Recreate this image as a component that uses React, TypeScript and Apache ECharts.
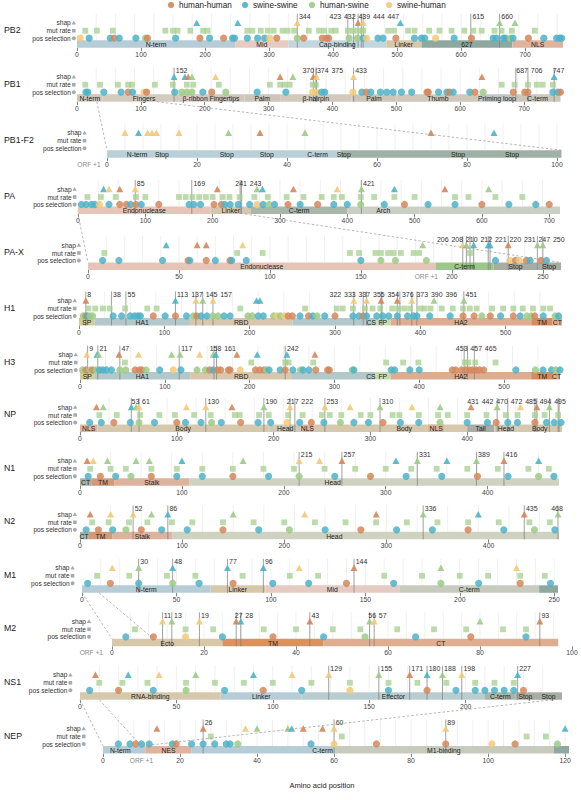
import React, { useEffect, useRef } from "react";
import * as echarts from "echarts";

type Cat = "hh" | "ss" | "hs" | "sh";
type Pt = [number, Cat];
type Dom = [string, number, number];
type Note = [string, number];

const FONT = "Liberation Sans, Arial, Helvetica, sans-serif";
const CAT_COLOR: Record<Cat, string> = { hh: "#d4865b", ss: "#4db2c8", hs: "#9ccb86", sh: "#f2c978" };
const legendCats: Cat[] = ["hh", "ss", "hs", "sh"];
const legendNames = ["human-human", "swine-swine", "human-swine", "swine-human"];
const rowNames = ["shap", "mut rate", "pos selection"];

// ---------- PB2 ----------
const pb2Ticks = [0, 100, 200, 300, 400, 500, 600, 700];
const pb2Sites = [344, 423, 432, 439, 444, 447, 615, 660];
const pb2Shap: Pt[] = [[187, "ss"], [251, "ss"], [344, "sh"], [439, "hh"], [447, "sh"], [505, "ss"], [660, "hs"], [684, "hs"]];
const pb2Mut = [13, 31, 56, 138, 150, 157, 177, 197, 204, 266, 274, 287, 298, 307, 321, 329, 339, 362, 378, 386, 397, 404, 423, 431, 439, 447, 486, 495, 517, 527, 550, 566, 585, 605, 619, 632, 652, 663, 679, 715];
const pb2Pos: Pt[] = [[5, "sh"], [19, "ss"], [52, "ss"], [58, "hh"], [66, "ss"], [92, "ss"], [107, "hs"], [110, "hh"], [154, "ss"], [192, "hh"], [207, "ss"], [229, "hh"], [243, "ss"], [246, "ss"], [266, "ss"], [282, "ss"], [293, "ss"], [301, "sh"], [312, "hh"], [344, "hs"], [354, "hh"], [383, "hh"], [390, "hh"], [393, "hh"], [425, "hs"], [438, "hs"], [447, "ss"], [452, "sh"], [470, "ss"], [478, "ss"], [498, "hh"], [527, "ss"], [538, "ss"], [543, "ss"], [560, "sh"], [589, "ss"], [616, "hh"], [650, "ss"], [655, "ss"], [666, "ss"], [669, "ss"], [677, "hs"], [681, "ss"], [705, "hh"], [729, "ss"], [749, "ss"], [754, "ss"], [757, "ss"]];
const pb2Domains: Dom[] = [["N-term", 0, 247], ["Mid", 247, 330], ["Cap-binding", 330, 483], ["Linker", 483, 538], ["627", 538, 680], ["NLS", 680, 759]];
const pb2Fills = ["#b6cdd7", "#e6cbc3", "#c3d6de", "#d8c8aa", "#8ea89f", "#deb49e"];

// ---------- PB1 ----------
const pb1Ticks = [0, 100, 200, 300, 400, 500, 600, 700];
const pb1Sites = [152, 370, 374, 375, 433, 687, 706, 747];
const pb1Shap: Pt[] = [[152, "ss"], [169, "ss"], [174, "hh"], [180, "hs"], [217, "sh"], [318, "hh"], [338, "hs"], [370, "hh"], [375, "sh"], [433, "sh"], [634, "hh"], [747, "ss"]];
const pb1Mut = [13, 36, 64, 80, 86, 122, 150, 172, 182, 222, 302, 318, 325, 333, 369, 374, 665, 685, 706, 720, 729, 745];
const pb1Pos: Pt[] = [[14, "ss"], [17, "ss"], [42, "ss"], [69, "ss"], [80, "hh"], [87, "ss"], [105, "sh"], [109, "hh"], [153, "ss"], [164, "hs"], [172, "hs"], [180, "hs"], [197, "ss"], [211, "hh"], [233, "hs"], [282, "ss"], [327, "ss"], [369, "sh"], [375, "sh"], [383, "ss"], [388, "ss"], [432, "sh"], [446, "ss"], [453, "hh"], [460, "ss"], [475, "ss"], [485, "ss"], [495, "ss"], [508, "ss"], [524, "ss"], [548, "hh"], [550, "hh"], [566, "ss"], [579, "ss"], [583, "hh"], [589, "ss"], [615, "ss"], [623, "hh"], [636, "hs"], [683, "hh"], [701, "hh"], [706, "hh"], [745, "ss"], [753, "ss"], [757, "hh"]];
const pb1Domains: Dom[] = [["N-term", 0, 40], ["Fingers", 40, 170], ["β-ribbon", 170, 200], ["Fingertips", 200, 262], ["Palm", 262, 318], ["β-hairpin", 318, 430], ["Palm", 430, 500], ["Thumb", 500, 630], ["Priming loop", 630, 685], ["C-term", 685, 757]];
const pb1Fills = ["#cfc8ba", "#d3cbbd", "#d9c6c0", "#cfc8ba", "#cdc6b8", "#d1c9bb", "#cdc6b8", "#cfc8ba", "#c2c6c6", "#cbc6b8"];

// ---------- PB1-F2 ----------
const pb1f2Ticks = [0, 20, 40, 60, 80, 100];
const pb1f2Sites: number[] = [];
const pb1f2Shap: Pt[] = [[4, "sh"], [7, "ss"], [9, "sh"], [10, "sh"], [11, "sh"], [16, "sh"], [27, "hs"], [34, "hh"], [44, "hs"], [72, "hh"], [86, "ss"]];
const pb1f2Mut: number[] = [];
const pb1f2Pos: Pt[] = [];
const pb1f2Domains: Dom[] = [["", 0, 52], ["", 52, 101]];
const pb1f2Fills = ["#b9d0d8", "#9fb0a5"];
const pb1f2Notes: Note[] = [["N-term", 6.7], ["Stop", 12.2], ["Stop", 26.6], ["Stop", 35.5], ["C-term", 46.8], ["Stop", 52.6], ["Stop", 78], ["Stop", 90]];
const pb1f2Link = [31, 125];

// ---------- PA ----------
const paTicks = [0, 100, 200, 300, 400, 500, 600, 700];
const paSites = [85, 169, 241, 243, 421];
const paShap: Pt[] = [[38, "ss"], [46, "sh"], [62, "hh"], [85, "sh"], [207, "hh"], [266, "hs"], [274, "ss"], [320, "hh"], [385, "sh"], [421, "hs"], [470, "ss"], [545, "hh"], [610, "hs"]];
const paMut = [14, 34, 56, 86, 100, 150, 160, 170, 180, 190, 200, 215, 225, 240, 262, 282, 310, 335, 362, 380, 392, 420, 440, 470, 500, 560, 580, 620, 660];
const paPos: Pt[] = [[5, "ss"], [12, "ss"], [20, "ss"], [25, "ss"], [32, "sh"], [46, "ss"], [62, "hh"], [72, "hh"], [78, "ss"], [86, "hh"], [94, "ss"], [120, "hh"], [165, "ss"], [172, "ss"], [182, "ss"], [202, "hh"], [213, "hh"], [218, "ss"], [226, "ss"], [238, "ss"], [255, "ss"], [266, "sh"], [275, "ss"], [284, "hs"], [292, "ss"], [312, "hh"], [330, "ss"], [356, "hh"], [380, "ss"], [400, "ss"], [420, "hs"], [455, "ss"], [485, "hh"], [520, "ss"], [560, "ss"], [600, "hh"], [640, "ss"], [680, "ss"], [700, "hh"]];
const paDomains: Dom[] = [["Endonuclease", 0, 197], ["Linker", 197, 257], ["C-term", 257, 400], ["Arch", 400, 507], ["", 507, 716]];
const paFills = ["#e6c4b7", "#d4c7ae", "#a8b7a9", "#c9cfc3", "#c9cfc3"];

// ---------- PA-X ----------
const paxTicks = [0, 50, 100, 150, 200, 250];
const paxSites = [206, 208, 210, 212, 221, 220, 231, 247, 250];
const paxShap: Pt[] = [[43, "ss"], [60, "hh"], [65, "hh"], [85, "sh"], [184, "hs"], [206, "sh"], [208, "hs"], [212, "ss"], [220, "ss"], [221, "ss"], [231, "hh"], [247, "hs"], [250, "hs"]];
const paxMut = [9, 82, 96, 144, 149, 158, 161, 165, 168, 172, 179, 182, 210];
const paxPos: Pt[] = [[8, "ss"], [17, "ss"], [41, "ss"], [55, "hh"], [56, "ss"], [65, "hh"], [70, "ss"], [78, "hh"], [79, "ss"], [87, "ss"], [150, "ss"], [161, "hs"], [169, "hs"], [186, "hs"], [224, "ss"], [232, "sh"], [235, "hh"], [237, "sh"], [241, "hh"], [243, "ss"], [249, "hh"], [252, "ss"]];
const paxDomains: Dom[] = [["Endonuclease", 0, 191], ["C-term", 191, 223], ["Stop", 223, 247], ["Stop", 247, 260]];
const paxFills = ["#e6c4b7", "#9dc78a", "#a9aca3", "#a9aca3"];
const paxLink = [0, 248];

// ---------- H1 ----------
const h1Ticks = [0, 100, 200, 300, 400, 500];
const h1Sites = [8, 38, 55, 113, 137, 145, 157, 322, 333, 337, 355, 354, 376, 373, 390, 396, 451];
const h1Shap: Pt[] = [[8, "hh"], [113, "ss"], [137, "sh"], [145, "hs"], [157, "sh"], [208, "ss"], [212, "ss"], [322, "sh"], [337, "sh"], [354, "hh"], [373, "hh"], [390, "sh"], [416, "hs"], [451, "hs"]];
const h1Mut = [11, 19, 28, 36, 54, 80, 91, 189, 265, 302, 309, 321, 335, 344, 353, 367, 374, 381, 388, 400, 405, 412, 425, 438, 450, 458, 466, 484, 497, 509, 520, 532, 544, 552];
const h1Pos: Pt[] = [[5, "hs"], [8, "hh"], [10, "ss"], [13, "hs"], [16, "hs"], [40, "ss"], [50, "ss"], [60, "ss"], [65, "ss"], [69, "ss"], [72, "ss"], [87, "hh"], [101, "ss"], [113, "hh"], [126, "ss"], [134, "hs"], [138, "hh"], [143, "ss"], [150, "ss"], [157, "hs"], [163, "hs"], [170, "ss"], [177, "ss"], [198, "hs"], [203, "hs"], [210, "ss"], [216, "ss"], [228, "hs"], [232, "sh"], [236, "hs"], [241, "sh"], [245, "hh"], [250, "hh"], [259, "ss"], [269, "hh"], [274, "ss"], [279, "hs"], [288, "ss"], [300, "hh"], [321, "ss"], [328, "ss"], [333, "hh"], [337, "ss"], [349, "ss"], [356, "ss"], [363, "ss"], [373, "ss"], [385, "ss"], [392, "ss"], [396, "ss"], [411, "ss"], [435, "ss"], [450, "hh"], [463, "hh"], [472, "hs"], [482, "hh"], [494, "ss"], [509, "hh"], [517, "ss"], [525, "hs"], [530, "hs"], [534, "hh"], [544, "ss"], [558, "hs"], [562, "ss"]];
const h1Domains: Dom[] = [["SP", 0, 18], ["HA1", 18, 130], ["RBD", 130, 250], ["", 250, 340], ["CS", 338, 347], ["FP", 347, 365], ["HA2", 365, 530], ["TM", 530, 555], ["CT", 555, 566]];
const h1Fills = ["#cfcd93", "#b3c8cb", "#d8c6ad", "#b3c8cb", "#b3c8cb", "#c6dcae", "#dcad90", "#d98b5e", "#dfae90"];

// ---------- H3 ----------
const h3Ticks = [0, 100, 200, 300, 400, 500];
const h3Sites = [9, 21, 47, 117, 158, 161, 242, 453, 457, 465];
const h3Shap: Pt[] = [[8, "sh"], [20, "ss"], [22, "hs"], [46, "hh"], [69, "sh"], [108, "hs"], [118, "hs"], [141, "sh"], [157, "hs"], [160, "ss"], [185, "hh"], [209, "ss"], [244, "ss"], [277, "hh"]];
const h3Mut = [53, 202, 242, 246, 275, 361, 381, 399, 454, 458, 466, 490];
const h3Pos: Pt[] = [[3, "hs"], [7, "hh"], [12, "hs"], [15, "hh"], [19, "hs"], [23, "ss"], [27, "ss"], [31, "ss"], [37, "ss"], [47, "hs"], [54, "hs"], [65, "hh"], [70, "hh"], [73, "hh"], [78, "hs"], [94, "ss"], [110, "sh"], [119, "ss"], [138, "hs"], [148, "hs"], [153, "hh"], [157, "ss"], [162, "hh"], [166, "hh"], [175, "hh"], [177, "hh"], [189, "sh"], [207, "hh"], [212, "hh"], [217, "hh"], [220, "hs"], [223, "ss"], [236, "ss"], [242, "hh"], [251, "ss"], [260, "hs"], [263, "ss"], [270, "ss"], [278, "hh"], [292, "hh"], [294, "hh"], [321, "hs"], [323, "ss"], [367, "ss"], [371, "ss"], [389, "ss"], [400, "ss"], [439, "hh"], [443, "hh"], [450, "hh"], [455, "hh"], [459, "hh"], [463, "hh"], [467, "hh"], [471, "hh"], [476, "hh"], [514, "ss"], [537, "hs"], [546, "ss"], [556, "ss"], [561, "hs"], [566, "ss"]];
const h3Domains: Dom[] = [["SP", 0, 17], ["HA1", 17, 130], ["RBD", 130, 250], ["", 250, 340], ["CS", 338, 348], ["FP", 348, 366], ["HA2", 366, 532], ["TM", 532, 558], ["CT", 558, 566]];
const h3Fills = ["#cfcd93", "#b3c8cb", "#d8c6ad", "#b3c8cb", "#b3c8cb", "#c6dcae", "#dcad90", "#d98b5e", "#dfae90"];

// ---------- NP ----------
const npTicks = [0, 100, 200, 300, 400, 500];
const npSites = [53, 61, 130, 190, 217, 222, 253, 310, 431, 442, 470, 472, 485, 494, 495];
const npShap: Pt[] = [[17, "hh"], [24, "hs"], [53, "ss"], [58, "hs"], [61, "sh"], [110, "sh"], [130, "sh"], [157, "hh"], [190, "hs"], [217, "sh"], [253, "sh"], [279, "sh"], [310, "hs"], [343, "sh"], [372, "hs"], [404, "hh"], [431, "hs"], [455, "sh"], [472, "hh"], [485, "hs"]];
const npMut = [20, 38, 62, 82, 98, 118, 135, 160, 165, 185, 195, 215, 230, 250, 258, 270, 290, 300, 323, 330, 350, 370, 380, 400, 420, 440, 452, 470, 480, 494];
const npPos: Pt[] = [[10, "ss"], [22, "ss"], [35, "hh"], [52, "ss"], [61, "hs"], [77, "ss"], [100, "hh"], [109, "ss"], [125, "ss"], [136, "hs"], [146, "ss"], [166, "hh"], [184, "ss"], [197, "ss"], [214, "sh"], [227, "ss"], [239, "hh"], [252, "ss"], [269, "hs"], [283, "ss"], [298, "ss"], [313, "hh"], [331, "ss"], [350, "ss"], [372, "hs"], [400, "ss"], [421, "ss"], [430, "hh"], [442, "ss"], [452, "ss"], [470, "hh"], [482, "ss"], [490, "ss"], [497, "ss"]];
const npDomains: Dom[] = [["NLS", 0, 18], ["Body", 18, 195], ["Head", 195, 229], ["NLS", 229, 241], ["", 241, 400], ["NLS", 360, 376], ["Tail", 400, 428], ["Head", 428, 452], ["Body", 452, 498]];
const npFills = ["#ddb49e", "#d6c8ad", "#d0c9b6", "#ddb49e", "#d6c8ad", "#ddb49e", "#a9aca3", "#d0c9b6", "#d6c8ad"];
const npNotes: Note[] = [["Body", 335]];

// ---------- N1 ----------
const n1Ticks = [0, 100, 200, 300, 400];
const n1Sites = [215, 257, 331, 389, 416];
const n1Shap: Pt[] = [[7, "hh"], [13, "sh"], [27, "hs"], [55, "hs"], [68, "hs"], [100, "ss"], [160, "hs"], [215, "sh"], [235, "sh"], [257, "hh"], [310, "ss"], [331, "hs"], [360, "ss"], [389, "hs"], [416, "hh"], [450, "ss"]];
const n1Mut = [10, 30, 45, 70, 95, 120, 150, 180, 210, 240, 270, 300, 325, 350, 380, 410, 440, 460];
const n1Pos: Pt[] = [[8, "ss"], [20, "hh"], [35, "ss"], [50, "hs"], [70, "hh"], [95, "ss"], [120, "ss"], [150, "hh"], [185, "ss"], [215, "hs"], [250, "ss"], [285, "hh"], [320, "ss"], [355, "ss"], [390, "hh"], [420, "ss"], [450, "hs"], [465, "ss"]];
const n1Domains: Dom[] = [["CT", 0, 11], ["TM", 11, 34], ["Stalk", 34, 107], ["", 107, 470]];
const n1Fills = ["#a5b3a6", "#d29a78", "#ddb39d", "#cfd2c0"];
const n1Notes: Note[] = [["Head", 248]];

// ---------- N2 ----------
const n2Ticks = [0, 100, 200, 300, 400];
const n2Sites = [52, 86, 336, 435, 468];
const n2Shap: Pt[] = [[10, "hh"], [30, "sh"], [52, "sh"], [70, "hs"], [86, "ss"], [150, "hs"], [220, "sh"], [290, "hh"], [336, "hs"], [390, "ss"], [435, "hh"], [468, "hs"]];
const n2Mut = [12, 28, 48, 66, 90, 110, 140, 170, 200, 230, 260, 290, 320, 350, 380, 410, 440, 460];
const n2Pos: Pt[] = [[6, "ss"], [18, "hh"], [32, "ss"], [45, "hs"], [60, "hh"], [80, "ss"], [105, "ss"], [140, "hh"], [175, "ss"], [205, "hs"], [240, "ss"], [275, "hh"], [310, "ss"], [345, "ss"], [380, "hh"], [415, "ss"], [445, "hs"], [465, "ss"]];
const n2Domains: Dom[] = [["CT", 0, 8], ["TM", 8, 32], ["Stalk", 32, 90], ["", 90, 469]];
const n2Fills = ["#a5b3a6", "#d29a78", "#ddb39d", "#cfd2c0"];
const n2Notes: Note[] = [["Head", 249]];

// ---------- M1 ----------
const m1Ticks = [0, 50, 100, 150, 200, 250];
const m1Sites = [30, 48, 77, 96, 144];
const m1Shap: Pt[] = [[16, "sh"], [30, "hs"], [48, "ss"], [77, "ss"], [96, "ss"], [115, "sh"], [144, "hh"], [190, "hs"], [230, "sh"]];
const m1Mut = [8, 25, 45, 60, 85, 110, 125, 160, 180, 200, 215, 232, 245];
const m1Pos: Pt[] = [[3, "ss"], [15, "hh"], [30, "ss"], [48, "hs"], [62, "ss"], [80, "hh"], [101, "ss"], [120, "ss"], [140, "hh"], [165, "ss"], [190, "hs"], [210, "ss"], [232, "hh"], [248, "ss"]];
const m1Domains: Dom[] = [["N-term", 0, 68], ["Linker", 68, 97], ["Mid", 97, 168], ["C-term", 168, 242], ["", 242, 252]];
const m1Fills = ["#b6cdd7", "#d8c8aa", "#e6cbc3", "#c6cbbd", "#8ea89f"];

// ---------- M2 ----------
const m2Ticks = [0, 20, 40, 60, 80, 100];
const m2Sites = [11, 13, 19, 27, 28, 43, 56, 57, 93];
const m2Shap: Pt[] = [[11, "sh"], [13, "hs"], [19, "sh"], [27, "hh"], [28, "ss"], [43, "hh"], [56, "hs"], [57, "sh"], [80, "hs"], [93, "hh"]];
const m2Mut = [5, 16, 22, 33, 40, 48, 54, 62, 70, 77, 85, 90];
const m2Pos: Pt[] = [[3, "ss"], [9, "hh"], [16, "sh"], [24, "ss"], [35, "hh"], [46, "ss"], [55, "hs"], [66, "ss"], [78, "hh"], [90, "ss"]];
const m2Domains: Dom[] = [["Ecto", 0, 24], ["TM", 24, 46], ["CT", 46, 97]];
const m2Fills = ["#d8c8aa", "#d9935f", "#dfad8f"];
const m2Link = [0, 9];

// ---------- NS1 ----------
const ns1Ticks = [0, 50, 100, 150, 200];
const ns1Sites = [129, 155, 171, 180, 188, 198, 227];
const ns1Shap: Pt[] = [[8, "hh"], [25, "ss"], [41, "sh"], [60, "hs"], [90, "ss"], [110, "sh"], [129, "sh"], [155, "hs"], [171, "hh"], [180, "ss"], [188, "hs"], [198, "sh"], [227, "ss"]];
const ns1Mut = [10, 22, 35, 55, 70, 85, 100, 120, 140, 160, 175, 190, 205, 215, 225];
const ns1Pos: Pt[] = [[5, "ss"], [20, "hh"], [38, "ss"], [55, "hs"], [75, "ss"], [95, "hh"], [115, "ss"], [140, "sh"], [160, "ss"], [180, "hh"], [195, "ss"], [205, "ss"], [210, "ss"], [215, "ss"], [220, "ss"], [225, "ss"], [230, "hh"]];
const ns1Domains: Dom[] = [["RNA-binding", 0, 73], ["Linker", 73, 115], ["Effector", 115, 210], ["C-term", 210, 226], ["Stop", 226, 236], ["Stop", 236, 250]];
const ns1Fills = ["#d6c8ad", "#b6cdd7", "#b9cccf", "#a9b4a8", "#a9aca3", "#a9aca3"];

// ---------- NEP ----------
const nepTicks = [0, 20, 40, 60, 80, 100, 120];
const nepSites = [26, 60, 89];
const nepShap: Pt[] = [[14, "hh"], [26, "hh"], [37, "sh"], [40, "hs"], [48, "hs"], [49, "ss"], [52, "hh"], [57, "hh"], [60, "sh"], [89, "sh"], [120, "ss"]];
const nepMut = [28, 62, 110, 115];
const nepPos: Pt[] = [[4, "ss"], [7, "ss"], [8.5, "hh"], [10, "ss"], [12, "ss"], [18, "ss"], [19, "hh"], [23, "ss"], [26, "ss"], [29, "ss"], [32, "ss"], [33, "ss"], [35, "hs"], [54, "ss"], [60, "sh"], [71, "hh"], [89, "hh"], [101, "sh"], [107, "hh"], [118, "hs"]];
const nepDomains: Dom[] = [["", 0, 11], ["NES", 11, 23], ["", 23, 60], ["M1-binding", 60, 117], ["", 117, 121]];
const nepFills = ["#b6cdd7", "#dfb39d", "#b6cdd7", "#c6cbbd", "#8ea89f"];
const nepNotes: Note[] = [["N-term", 4.5], ["C-term", 57]];
const nepLink = [0, 10];
const nepReturn = [245, 10];

interface Panel {
  name: string; s: number; x0: number; x1: number; max: number; ticks: number[];
  shap: Pt[]; mut: number[]; pos: Pt[]; sites: number[]; domains: Dom[]; fills: string[];
  orf?: number; notes?: Note[];
}

const panels: Panel[] = [
  { name: "PB2", s: 22.7, x0: 77, x1: 563, max: 759, ticks: pb2Ticks, shap: pb2Shap, mut: pb2Mut, pos: pb2Pos, sites: pb2Sites, domains: pb2Domains, fills: pb2Fills },
  { name: "PB1", s: 76.7, x0: 77, x1: 560.5, max: 757, ticks: pb1Ticks, shap: pb1Shap, mut: pb1Mut, pos: pb1Pos, sites: pb1Sites, domains: pb1Domains, fills: pb1Fills },
  { name: "PB1-F2", s: 132.7, x0: 107, x1: 561.5, max: 101, ticks: pb1f2Ticks, shap: pb1f2Shap, mut: pb1f2Mut, pos: pb1f2Pos, sites: pb1f2Sites, domains: pb1f2Domains, fills: pb1f2Fills, orf: -4, notes: pb1f2Notes },
  { name: "PA", s: 189, x0: 78, x1: 560, max: 716, ticks: paTicks, shap: paShap, mut: paMut, pos: paPos, sites: paSites, domains: paDomains, fills: paFills },
  { name: "PA-X", s: 245, x0: 88, x1: 561, max: 260, ticks: paxTicks, shap: paxShap, mut: paxMut, pos: paxPos, sites: paxSites, domains: paxDomains, fills: paxFills, orf: 186 },
  { name: "H1", s: 300.5, x0: 79, x1: 562, max: 566, ticks: h1Ticks, shap: h1Shap, mut: h1Mut, pos: h1Pos, sites: h1Sites, domains: h1Domains, fills: h1Fills },
  { name: "H3", s: 354.5, x0: 80, x1: 560, max: 566, ticks: h3Ticks, shap: h3Shap, mut: h3Mut, pos: h3Pos, sites: h3Sites, domains: h3Domains, fills: h3Fills },
  { name: "NP", s: 407, x0: 80, x1: 562, max: 498, ticks: npTicks, shap: npShap, mut: npMut, pos: npPos, sites: npSites, domains: npDomains, fills: npFills, notes: npNotes },
  { name: "N1", s: 460.8, x0: 80, x1: 559, max: 470, ticks: n1Ticks, shap: n1Shap, mut: n1Mut, pos: n1Pos, sites: n1Sites, domains: n1Domains, fills: n1Fills, notes: n1Notes },
  { name: "N2", s: 514.3, x0: 80, x1: 559, max: 469, ticks: n2Ticks, shap: n2Shap, mut: n2Mut, pos: n2Pos, sites: n2Sites, domains: n2Domains, fills: n2Fills, notes: n2Notes },
  { name: "M1", s: 567.8, x0: 82, x1: 558, max: 252, ticks: m1Ticks, shap: m1Shap, mut: m1Mut, pos: m1Pos, sites: m1Sites, domains: m1Domains, fills: m1Fills },
  { name: "M2", s: 621.3, x0: 112, x1: 572, max: 100, ticks: m2Ticks, shap: m2Shap, mut: m2Mut, pos: m2Pos, sites: m2Sites, domains: m2Domains, fills: m2Fills, orf: -4.5 },
  { name: "NS1", s: 674.8, x0: 80, x1: 562, max: 250, ticks: ns1Ticks, shap: ns1Shap, mut: ns1Mut, pos: ns1Pos, sites: ns1Sites, domains: ns1Domains, fills: ns1Fills },
  { name: "NEP", s: 728.5, x0: 103, x1: 569, max: 121, ticks: nepTicks, shap: nepShap, mut: nepMut, pos: nepPos, sites: nepSites, domains: nepDomains, fills: nepFills, orf: 10, notes: nepNotes },
];

// parent panel, child panel, parent range that maps onto the child axis, child end of the second line
const links: [number, number, number[], number][] = [[1, 2, pb1f2Link, 101], [3, 4, paxLink, 260], [10, 11, m2Link, 9], [12, 13, nepLink, 10]];
// long return line from the end of NS1 down to the NEP splice point
const returns: [number, number, number[]][] = [[12, 13, nepReturn]];

const ROW_SHAP = 0, ROW_MUT = 8, ROW_POS = 15.5, BAR_TOP = 17.5, BAR_BOT = 25;

function scaleOf(p: Panel) { const k = (p.x1 - p.x0) / p.max; return (a: number) => p.x0 + a * k; }

// spread site labels sideways, keeping them in the listed order, so they do not collide
function placeLabels(xs: number[], ws: number[], lo: number, hi: number) {
  const n = xs.length;
  const c = xs.map((x, i) => x + ws[i] / 2 + 1.5);
  for (let it = 0; it < 400; it++) {
    let moved = false;
    for (let a = 0; a < n - 1; a++) {
      const b = a + 1;
      const need = (ws[a] + ws[b]) / 2 + 2.5;
      const d = c[b] - c[a];
      if (d < need - 0.01) { const m = (need - d) / 2; c[a] -= m; c[b] += m; moved = true; }
    }
    for (let i = 0; i < n; i++) c[i] = Math.max(lo + ws[i] / 2, Math.min(hi - ws[i] / 2, c[i]));
    if (!moved) break;
  }
  return c;
}

function barText(i: number, p: Panel, notes: Note[]) {
  return {
    type: "custom", xAxisIndex: i, yAxisIndex: i, z: 6, silent: true, clip: false,
    data: notes.map((n, j) => [n[1], j]),
    renderItem: (_: any, api: any) => {
      const c = api.coord([api.value(0), p.s + (BAR_TOP + BAR_BOT) / 2]);
      return { type: "text", style: { text: notes[api.value(1)][0], x: c[0], y: c[1] + 0.5, align: "center", verticalAlign: "middle", fontSize: 6.8, fontFamily: FONT, fill: "#222" } };
    },
  };
}

function buildOption() {
  const grid: any[] = [], xAxis: any[] = [], yAxis: any[] = [], series: any[] = [], graphic: any[] = [];

  panels.forEach((p, i) => {
    const top = p.s - 12, bot = p.s + BAR_BOT;
    const px = scaleOf(p);
    const k = (p.x1 - p.x0) / p.max;
    grid.push({ left: p.x0, top, width: p.x1 - p.x0, height: bot - top });
    xAxis.push({
      type: "value", gridIndex: i, min: 0, max: p.max,
      axisLine: { show: false }, splitLine: { show: false },
      axisTick: { show: true, length: 3.5, customValues: p.ticks, lineStyle: { color: "#666", width: 0.8 } },
      axisLabel: { customValues: p.ticks, fontSize: 6.8, color: "#444", margin: 3, fontFamily: FONT },
    });
    yAxis.push({ type: "value", gridIndex: i, min: top, max: bot, inverse: true, show: false });

    // faint guide lines behind the rows
    const minorStep = p.max > 400 ? 30 : p.max > 200 ? 10 : 4;
    const guides: number[] = [];
    for (let a = minorStep; a < p.max; a += minorStep) guides.push(a);
    series.push({
      type: "custom", xAxisIndex: i, yAxisIndex: i, z: 1, silent: true, clip: false,
      data: guides.map((a) => [a]),
      renderItem: (_: any, api: any) => {
        const a = api.coord([api.value(0), p.s - 9]);
        const b = api.coord([api.value(0), p.s + BAR_TOP]);
        return { type: "line", shape: { x1: a[0], y1: a[1], x2: b[0], y2: b[1] }, style: { stroke: "#e6e6e6", lineWidth: 0.6 } };
      },
    });

    // domain bars
    series.push({
      type: "custom", xAxisIndex: i, yAxisIndex: i, z: 2, silent: true, clip: false,
      data: p.domains.map((d, j) => [d[1], d[2], j]),
      renderItem: (_: any, api: any) => {
        const a = api.coord([api.value(0), p.s + BAR_TOP]);
        const b = api.coord([api.value(1), p.s + BAR_BOT]);
        return { type: "rect", shape: { x: a[0], y: a[1], width: b[0] - a[0], height: b[1] - a[1] }, style: { fill: p.fills[api.value(2)] } };
      },
    });

    // site lines
    series.push({
      type: "custom", xAxisIndex: i, yAxisIndex: i, z: 3, silent: true, clip: false,
      data: p.sites.map((a) => [a]),
      renderItem: (_: any, api: any) => {
        const a = api.coord([api.value(0), p.s - 9]);
        const b = api.coord([api.value(0), p.s + BAR_BOT]);
        return { type: "line", shape: { x1: a[0], y1: a[1], x2: b[0], y2: b[1] }, style: { stroke: "#808080", lineWidth: 0.75 } };
      },
    });

    const scat = (pts: [number, string][], y: number, symbol: string, size: any, opacity: number, z: number) => ({
      type: "scatter", xAxisIndex: i, yAxisIndex: i, z, silent: true, clip: false, symbol, symbolSize: size,
      data: pts.map(([a, c]) => ({ value: [a, p.s + y], itemStyle: { color: c, opacity } })),
    });
    series.push(scat(p.mut.map((a) => [a, "#a6cf8e"]), ROW_MUT, "rect", 5.8, 0.75, 4));
    series.push(scat(p.shap.map(([a, c]) => [a, CAT_COLOR[c]]), ROW_SHAP, "triangle", [7, 6.5], 0.9, 5));
    series.push(scat(p.pos.map(([a, c]) => [a, CAT_COLOR[c]]), ROW_POS, "circle", 7.2, 0.85, 5));

    // domain names
    const named: Note[] = p.domains.filter((d) => d[0]).map((d) => [d[0], (d[1] + d[2]) / 2]);
    series.push(barText(i, p, named.concat(p.notes || [])));

    // site labels
    if (p.sites.length) {
      const xs = p.sites.map(px);
      const ws = p.sites.map((a) => String(a).length * 4);
      const cs = placeLabels(xs, ws, p.x0 - 4, p.x1 + 4);
      series.push({
        type: "custom", xAxisIndex: i, yAxisIndex: i, z: 6, silent: true, clip: false,
        data: p.sites.map((a, j) => [(cs[j] - p.x0) / k, a]),
        renderItem: (_: any, api: any) => {
          const c = api.coord([api.value(0), p.s - 6]);
          return { type: "text", style: { text: String(api.value(1)), x: c[0], y: c[1], align: "center", verticalAlign: "middle", fontSize: 7, fontFamily: FONT, fill: "#333" } };
        },
      });
    }

    // row captions and key symbols
    const mx = px(-5);
    graphic.push({ type: "text", left: 4, top: p.s + ROW_MUT - 5.5, style: { text: p.name, fontSize: 8.8, fontFamily: FONT, fill: "#222" } });
    [ROW_SHAP, ROW_MUT, ROW_POS].forEach((dy, r) => {
      graphic.push({ type: "text", x: mx - 3, y: p.s + dy, style: { text: rowNames[r], align: "right", verticalAlign: "middle", fontSize: 6.6, fontFamily: FONT, fill: "#333" } });
    });
    graphic.push({ type: "polygon", shape: { points: [[mx, p.s - 2], [mx - 2.2, p.s + 1.8], [mx + 2.2, p.s + 1.8]] }, style: { fill: "#aaa" } });
    graphic.push({ type: "rect", shape: { x: mx - 1.8, y: p.s + ROW_MUT - 1.8, width: 3.6, height: 3.6 }, style: { fill: "#aaa" } });
    graphic.push({ type: "circle", shape: { cx: mx, cy: p.s + ROW_POS, r: 2 }, style: { fill: "#aaa" } });
    if (p.orf !== undefined) {
      graphic.push({ type: "text", x: px(p.orf), y: p.s + 31.5, style: { text: "ORF +1", align: "center", verticalAlign: "middle", fontSize: 6.6, fontFamily: FONT, fill: "#888" } });
    }
  });

  // dashed connectors between a protein and its overlapping reading frame
  const dash = { stroke: "#9a9a9a", lineWidth: 0.7, lineDash: [2.5, 2] };
  links.forEach(([pi, ci, range, childEnd]) => {
    const P = panels[pi], C = panels[ci];
    const pp = scaleOf(P), cp = scaleOf(C);
    const y1 = P.s + BAR_BOT, y2 = C.s + BAR_TOP;
    graphic.push({ type: "line", z: 10, shape: { x1: pp(range[0]), y1, x2: cp(0), y2 }, style: dash });
    graphic.push({ type: "line", z: 10, shape: { x1: pp(range[1]), y1, x2: cp(childEnd), y2 }, style: dash });
  });
  returns.forEach(([pi, ci, r]) => {
    const P = panels[pi], C = panels[ci];
    graphic.push({ type: "line", z: 10, shape: { x1: scaleOf(P)(r[0]), y1: P.s + BAR_BOT, x2: scaleOf(C)(r[1]), y2: C.s + BAR_TOP }, style: dash });
  });

  // legend
  let lx = 171;
  legendCats.forEach((c, j) => {
    graphic.push({ type: "circle", shape: { cx: lx, cy: 5, r: 3.2 }, style: { fill: CAT_COLOR[c], opacity: 0.9 } });
    graphic.push({ type: "text", x: lx + 8, y: 5, style: { text: legendNames[j], verticalAlign: "middle", fontSize: 8.2, fontFamily: FONT, fill: "#222" } });
    lx += [74, 67, 77, 0][j];
  });
  graphic.push({ type: "text", x: 322, y: 785, style: { text: "Amino acid position", align: "center", verticalAlign: "middle", fontSize: 7.5, fontFamily: FONT, fill: "#222" } });

  return { animation: false, backgroundColor: "#fff", grid, xAxis, yAxis, series, graphic };
}

export default function App() {
  const ref = useRef<HTMLDivElement>(null);
  useEffect(() => {
    if (!ref.current) return;
    const chart = echarts.init(ref.current, null, { renderer: "svg" });
    chart.setOption(buildOption());
    return () => chart.dispose();
  }, []);
  return <div ref={ref} style={{ position: "absolute", left: 0, top: 0, width: 581, height: 800, background: "#fff" }} />;
}
